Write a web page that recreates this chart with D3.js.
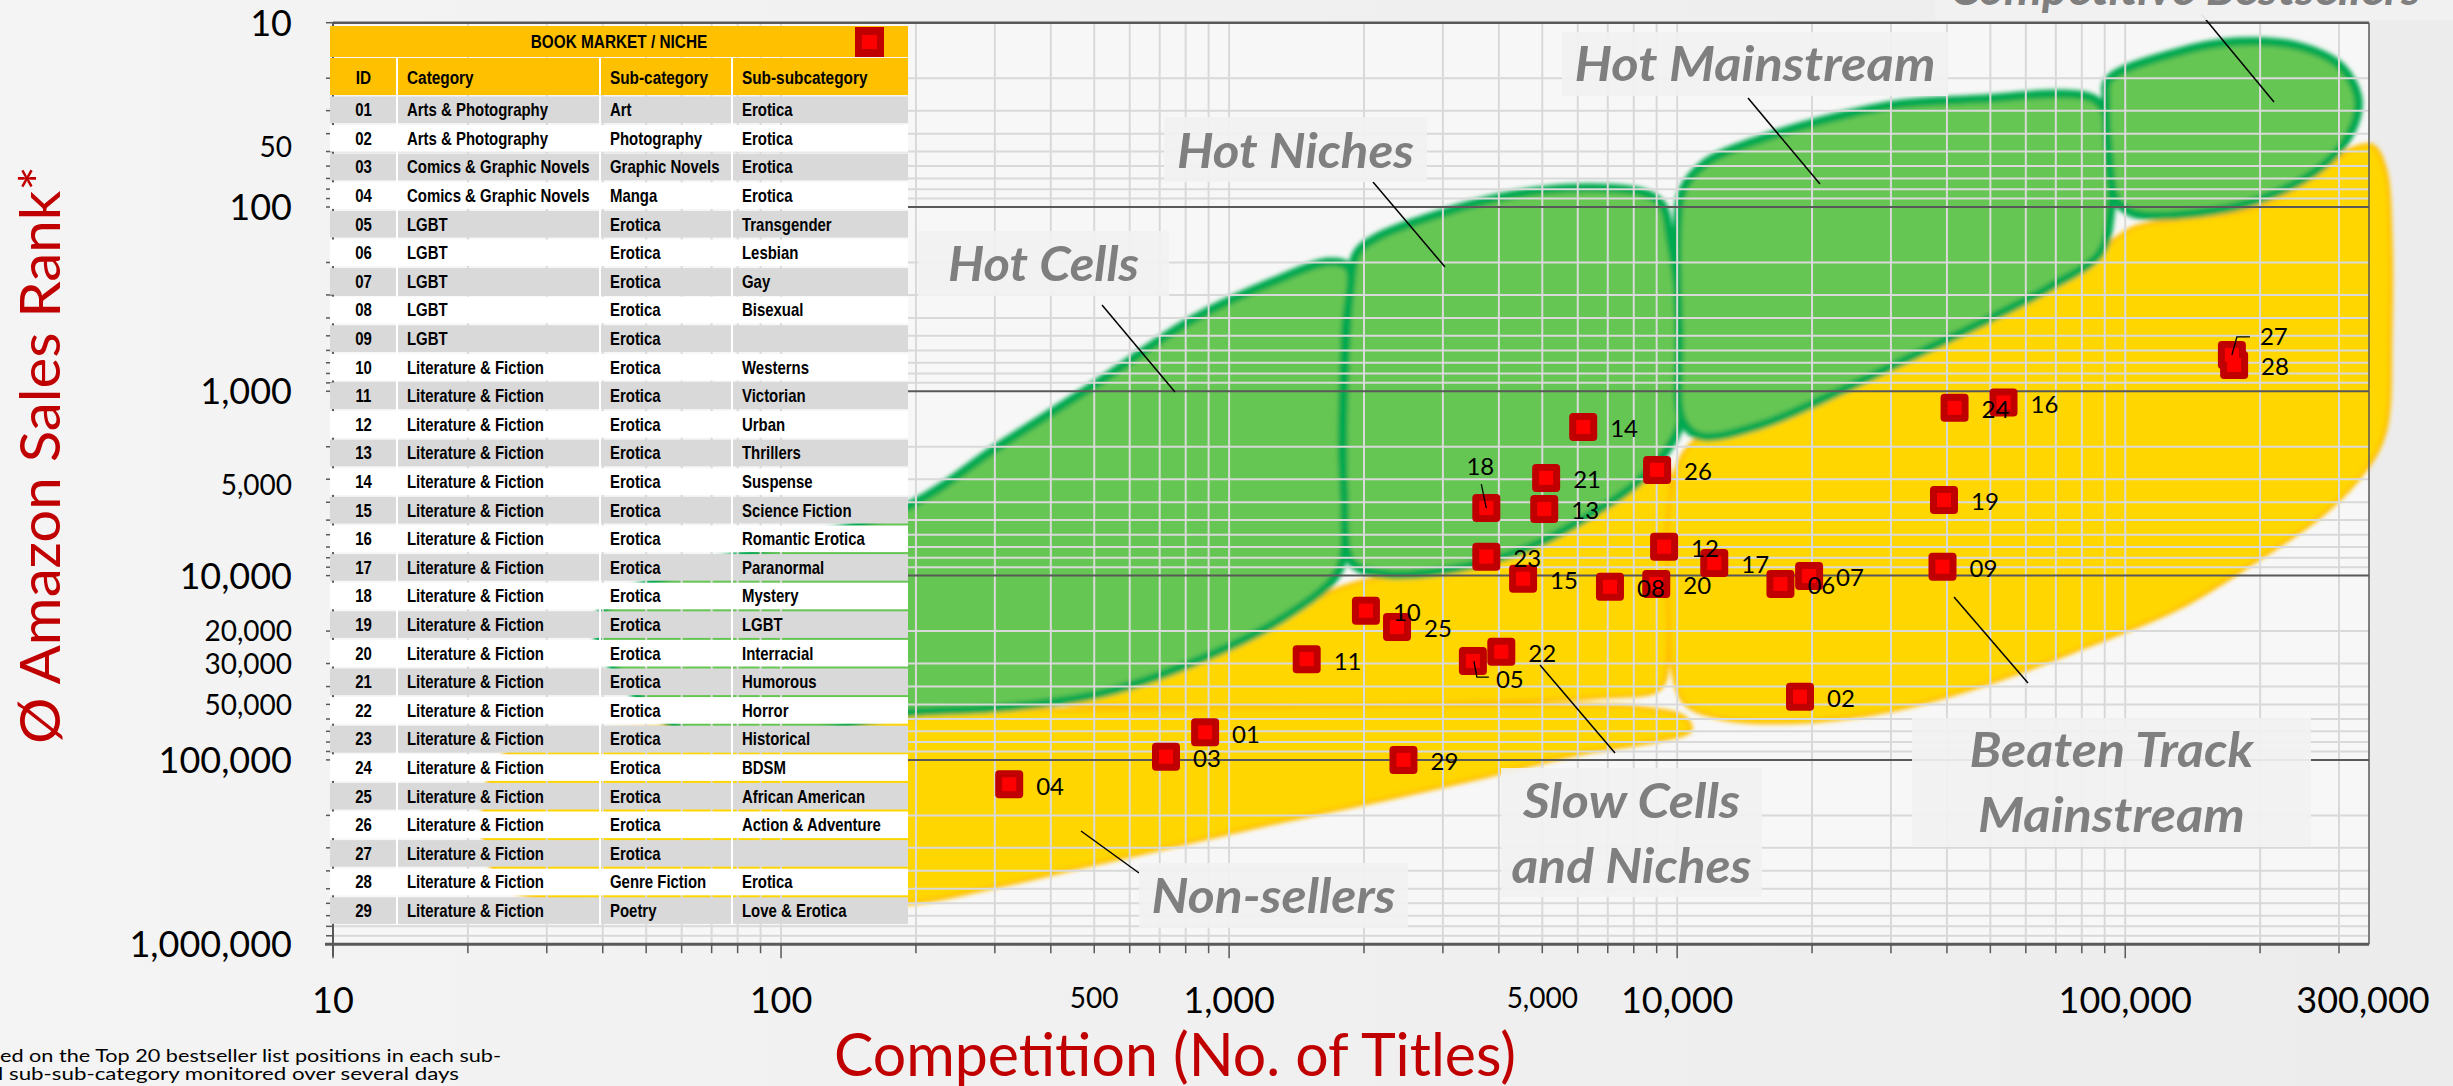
<!DOCTYPE html>
<html>
<head>
<meta charset="utf-8">
<script src="https://cdn.jsdelivr.net/npm/d3@7/dist/d3.min.js"></script>
<style>
    html, body { margin: 0; padding: 0; background: #f3f3f3; overflow: hidden; }
    svg { display: block; }
</style>
</head>
<body>
<div id="chartDiv"></div>
<script>
// niche table + scatter values
const ids = ['01','02','03','04','05','06','07','08','09','10','11','12','13','14','15',
    '16','17','18','19','20','21','22','23','24','25','26','27','28','29'];
const categories = ['Arts & Photography','Arts & Photography','Comics & Graphic Novels','Comics & Graphic Novels',
    'LGBT','LGBT','LGBT','LGBT','LGBT',
    'Literature & Fiction','Literature & Fiction','Literature & Fiction','Literature & Fiction','Literature & Fiction',
    'Literature & Fiction','Literature & Fiction','Literature & Fiction','Literature & Fiction','Literature & Fiction',
    'Literature & Fiction','Literature & Fiction','Literature & Fiction','Literature & Fiction','Literature & Fiction',
    'Literature & Fiction','Literature & Fiction','Literature & Fiction','Literature & Fiction','Literature & Fiction'];
const subCategories = ['Art','Photography','Graphic Novels','Manga','Erotica','Erotica','Erotica','Erotica','Erotica',
    'Erotica','Erotica','Erotica','Erotica','Erotica','Erotica','Erotica','Erotica','Erotica','Erotica',
    'Erotica','Erotica','Erotica','Erotica','Erotica','Erotica','Erotica','Erotica','Genre Fiction','Poetry'];
const subSubCategories = ['Erotica','Erotica','Erotica','Erotica','Transgender','Lesbian','Gay','Bisexual','',
    'Westerns','Victorian','Urban','Thrillers','Suspense','Science Fiction','Romantic Erotica','Paranormal','Mystery',
    'LGBT','Interracial','Humorous','Horror','Historical','BDSM','African American','Action & Adventure','',
    'Erotica','Love & Erotica'];

// competition = number of titles, salesRank = average amazon sales rank
const competition = [884, 18800, 723, 323, 3500, 17000, 19700, 7080, 39100, 2020, 1490, 9350, 5050, 6170, 4530,
    53500, 12100, 3750, 39400, 8980, 5100, 4050, 3750, 41600, 2370, 9020, 173000, 175000, 2450];
const salesRank = [70800, 45400, 96100, 135600, 29100, 11100, 10050, 11500, 8950, 15500, 28400, 6970, 4350, 1560, 10400,
    1150, 8550, 4300, 3890, 11100, 2950, 25900, 7890, 1230, 19000, 2670, 635, 720, 100000];

const xLabelValues = [10, 100, 500, 1000, 5000, 10000, 100000, 300000];
const xLabelTexts = ['10', '100', '500', '1,000', '5,000', '10,000', '100,000', '300,000'];
const yLabelValues = [10, 50, 100, 1000, 5000, 10000, 20000, 30000, 50000, 100000, 1000000];
const yLabelTexts = ['10', '50', '100', '1,000', '5,000', '10,000', '20,000', '30,000', '50,000', '100,000', '1,000,000'];

// market regions as [titles, sales rank] outlines
const hotCells = [[39, 17400], [192, 4200], [302, 2030], [500, 925], [826, 410], [1250, 255], [1680, 199],
    [1850, 214], [1816, 465], [1787, 2080], [1816, 6420], [1734, 9930], [1310, 17200], [826, 29800],
    [524, 43400], [308, 52200], [192, 55600], [66, 77900]];
const hotNiches = [[1930, 178], [2140, 146], [2990, 108], [4000, 89], [5070, 81], [6950, 79], [8440, 84],
    [9260, 97.5], [9650, 151], [10100, 320], [10300, 767], [10050, 1620], [8270, 3030], [6390, 4700],
    [4700, 7000], [3180, 9210], [2230, 9800], [1880, 8450], [1806, 3610], [1825, 534], [1864, 282]];
const hotMainstream = [[10300, 81], [11550, 58], [15300, 43], [22600, 32.5], [31500, 27.6], [48200, 25.9],
    [72800, 24.4], [85700, 26.2], [91700, 33.7], [93100, 63], [92600, 110], [87900, 178], [68000, 272],
    [49200, 410], [35800, 597], [23400, 984], [15300, 1530], [11250, 1750], [10260, 1430], [10100, 483],
    [10000, 151]];
const competitiveBestsellers = [[91700, 20.5], [129400, 14.6], [177800, 12.7], [245900, 13.5], [303600, 17.4],
    [331000, 26.2], [317800, 39.7], [274000, 60.7], [198000, 91.6], [144000, 108], [104200, 108],
    [95500, 91.6], [91700, 49.1], [90700, 26.2]];
const beatenTrack = [[10700, 1960], [18800, 1120], [40600, 465], [79400, 207], [104200, 130], [129400, 118],
    [198000, 100], [272500, 65], [318000, 49], [356000, 46.6], [380600, 63], [390500, 138], [390500, 483],
    [380600, 1620], [347000, 2580], [278000, 4580], [192000, 8560], [132800, 14800], [81000, 24400],
    [49500, 38300], [30200, 53600], [18400, 62200], [12500, 59200], [10400, 49100], [9750, 31300],
    [9550, 13600], [9650, 3890]];
const slowCells = [[415, 48500], [543, 40700], [826, 27700], [1310, 16400], [1770, 11700], [2170, 10300],
    [3180, 9560], [4260, 7840], [5740, 5530], [7700, 3520], [9400, 2510], [9550, 8240], [9550, 25300],
    [9160, 40700], [6740, 45600], [4030, 48500], [2180, 50400], [1110, 51600], [571, 50900]];
const nonSellers = [[23.6, 100000], [66, 64600], [192, 55000], [516, 52900], [1440, 50900], [4030, 50400],
    [8270, 52200], [10400, 59200], [10700, 68800], [9160, 77900], [6130, 91800], [3670, 123800],
    [2180, 164900], [1310, 214400], [782, 285600], [468, 380800], [278, 508000], [192, 600000],
    [66, 610000], [23.6, 449000]];

// layout only
const yLabelNudge = {50: -5, 5000: -35};
const xLabelNudge = {300000: 24};
const labelPlacement = {'18': 'above', '05': 'below', '27': 'aboveRight'};

const regionNotes = [
    {lines: ['Hot Cells'], box: [918, 231, 251, 65], base: [281], widths: [191], leader: [1102, 305, 1175, 392]},
    {lines: ['Hot Niches'], box: [1164, 117, 263, 65], base: [168], widths: [237], leader: [1373, 182, 1445, 267]},
    {lines: ['Hot Mainstream'], box: [1562, 32, 386, 64], base: [81], widths: [361], leader: [1748, 98, 1820, 184]},
    {lines: ['Competitive Bestsellers'], box: [1935, -50, 560, 70], base: [5], widths: [0], leader: [2202, 15, 2274, 102], start: 1950},
    {lines: ['Non-sellers'], box: [1139, 863, 269, 65], base: [913], widths: [244], leader: [1081, 831, 1139, 873]},
    {lines: ['Slow Cells', 'and Niches'], box: [1501, 768, 261, 129], base: [818, 883], widths: [217, 240], leader: [1540, 665, 1615, 753]},
    {lines: ['Beaten Track', 'Mainstream'], box: [1912, 718, 399, 129], base: [767, 832], widths: [284, 267], leader: [1954, 597, 2028, 683]}
];

const sansFont = "Lato, 'Open Sans', sans-serif";
const tableFont = "'Liberation Sans', Arial, sans-serif";
const narrowFactor = 0.83;

class NicheChart {
    constructor(width, height, div) {
        this.width = width;
        this.height = height;
        this.svg = d3.select(div).append('svg')
            .attr('width', width)
            .attr('height', height);
        this.x = d3.scaleLog().domain([10, 350000]).range([333, 2369]);
        this.y = d3.scaleLog().domain([10, 1000000]).range([22.7, 944.2]);
        this.setupDefs();
    }

    setupDefs() {
        let defs = this.svg.append('defs');
        let grad = defs.append('linearGradient').attr('id', 'bg');
        grad.append('stop').attr('offset', '0%').attr('stop-color', '#f4f4f4');
        grad.append('stop').attr('offset', '100%').attr('stop-color', '#ececec');
        defs.append('filter').attr('id', 'soft')
            .attr('x', '-10%').attr('y', '-10%').attr('width', '120%').attr('height', '120%')
            .append('feGaussianBlur').attr('stdDeviation', 2);
    }

    drawBackground() {
        this.svg.append('rect')
            .attr('width', this.width).attr('height', this.height)
            .attr('fill', 'url(#bg)');
        let [x0, x1] = this.x.range();
        let [y0, y1] = this.y.range();
        this.svg.append('rect')
            .attr('x', x0).attr('y', y0)
            .attr('width', x1 - x0).attr('height', y1 - y0)
            .attr('fill', '#f7f7f7');
    }

    drawRegions() {
        let x = this.x, y = this.y;
        let line = d3.line()
            .x(d => x(d[0]))
            .y(d => y(d[1]))
            .curve(d3.curveCatmullRomClosed.alpha(0.5));
        let g = this.svg.append('g').attr('filter', 'url(#soft)');
        [nonSellers, slowCells, beatenTrack].forEach(shape => {
            g.append('path')
                .attr('d', line(shape))
                .attr('fill', '#ffd600')
                .attr('stroke', '#ffc000')
                .attr('stroke-width', 4);
        });
        [hotCells, hotNiches, hotMainstream, competitiveBestsellers].forEach(shape => {
            g.append('path')
                .attr('d', line(shape))
                .attr('fill', '#66c652')
                .attr('stroke', '#00a94f')
                .attr('stroke-width', 9);
        });
    }

    drawGrid() {
        let x = this.x, y = this.y;
        let [x0, x1] = x.range();
        let [y0, y1] = y.range();
        let xs = [], ys = [];
        for (let e = 1; e <= 5; e++) {
            for (let k = 1; k <= 9; k++) {
                let v = k * Math.pow(10, e);
                if (v > 10 && v < 350000) xs.push(v);
                if (v > 10 && v < 1000000) ys.push(v);
            }
        }
        let g = this.svg.append('g');
        g.selectAll('.vgrid').data(xs).enter().append('line')
            .attr('x1', d => x(d)).attr('x2', d => x(d))
            .attr('y1', y0).attr('y2', y1)
            .attr('stroke', '#d9d9d9').attr('stroke-width', 2);
        g.selectAll('.hgrid').data(ys).enter().append('line')
            .attr('x1', x0).attr('x2', x1)
            .attr('y1', d => y(d)).attr('y2', d => y(d))
            .attr('stroke', d => Number.isInteger(Math.log10(d)) ? '#595959' : '#d9d9d9')
            .attr('stroke-width', 2);

        // frame
        g.append('line').attr('x1', x0).attr('x2', x1).attr('y1', y0).attr('y2', y0)
            .attr('stroke', '#595959').attr('stroke-width', 2.5);
        g.append('line').attr('x1', x1).attr('x2', x1).attr('y1', y0).attr('y2', y1)
            .attr('stroke', '#595959').attr('stroke-width', 1.5);
        g.append('line').attr('x1', x0).attr('x2', x0).attr('y1', y0).attr('y2', y1 + 12)
            .attr('stroke', '#595959').attr('stroke-width', 2);
        g.append('line').attr('x1', x0 - 8).attr('x2', x1).attr('y1', y1).attr('y2', y1)
            .attr('stroke', '#595959').attr('stroke-width', 3);

        // tick marks
        let xt = [10].concat(xs);
        g.selectAll('.xtick').data(xt).enter().append('line')
            .attr('x1', d => x(d)).attr('x2', d => x(d))
            .attr('y1', y1).attr('y2', d => y1 + (Number.isInteger(Math.log10(d)) ? 14 : 9))
            .attr('stroke', '#595959').attr('stroke-width', 1.5);
        let yt = [10].concat(ys, [1000000]);
        g.selectAll('.ytick').data(yt).enter().append('line')
            .attr('x1', x0 - 7).attr('x2', x0)
            .attr('y1', d => y(d)).attr('y2', d => y(d))
            .attr('stroke', '#595959').attr('stroke-width', 1.5);
    }

    drawRegionNotes() {
        let g = this.svg.append('g');
        regionNotes.forEach(n => {
            g.append('line')
                .attr('x1', n.leader[0]).attr('y1', n.leader[1])
                .attr('x2', n.leader[2]).attr('y2', n.leader[3])
                .attr('stroke', '#000').attr('stroke-width', 1.5);
            g.append('rect')
                .attr('x', n.box[0]).attr('y', n.box[1])
                .attr('width', n.box[2]).attr('height', n.box[3])
                .attr('fill', '#f1f1f1').attr('opacity', 0.93);
            n.lines.forEach((t, i) => {
                let cx = n.box[0] + n.box[2] / 2;
                let txt = g.append('text')
                    .attr('y', n.base[i])
                    .attr('font-family', sansFont)
                    .attr('font-weight', 'bold')
                    .attr('font-style', 'italic')
                    .attr('font-size', 48)
                    .attr('fill', '#7f7f7f')
                    .text(t);
                if (n.widths[i] > 0) {
                    txt.attr('x', cx).attr('text-anchor', 'middle')
                        .attr('textLength', n.widths[i]).attr('lengthAdjust', 'spacingAndGlyphs');
                } else {
                    txt.attr('x', n.start);
                }
            });
        });
    }

    drawPoints() {
        let x = this.x, y = this.y;
        let pts = ids.map((id, i) => ({id: id, cx: x(competition[i]), cy: y(salesRank[i])}));
        let g = this.svg.append('g');
        let lab = this.svg.append('g')
            .attr('font-family', sansFont)
            .attr('font-size', 24)
            .attr('fill', '#000');

        pts.forEach(p => {
            let place = labelPlacement[p.id];
            if (place === 'above') {
                lab.append('line').attr('x1', p.cx - 5).attr('y1', p.cy - 24).attr('x2', p.cx).attr('y2', p.cy)
                    .attr('stroke', '#000').attr('stroke-width', 1.3);
                lab.append('text').attr('x', p.cx - 6).attr('y', p.cy - 41).attr('dy', '0.35em')
                    .attr('text-anchor', 'middle').text(p.id);
            } else if (place === 'below') {
                lab.append('polyline')
                    .attr('points', [[p.cx + 1, p.cy], [p.cx + 4, p.cy + 16], [p.cx + 16, p.cy + 16]].join(' '))
                    .attr('fill', 'none').attr('stroke', '#000').attr('stroke-width', 1.3);
                lab.append('text').attr('x', p.cx + 23).attr('y', p.cy + 19).attr('dy', '0.35em').text(p.id);
            } else if (place === 'aboveRight') {
                lab.append('polyline')
                    .attr('points', [[p.cx, p.cy], [p.cx + 5, p.cy - 18], [p.cx + 18, p.cy - 18]].join(' '))
                    .attr('fill', 'none').attr('stroke', '#000').attr('stroke-width', 1.3);
                lab.append('text').attr('x', p.cx + 28).attr('y', p.cy - 18).attr('dy', '0.35em').text(p.id);
            } else {
                lab.append('text').attr('x', p.cx + 27).attr('y', p.cy + 2).attr('dy', '0.35em').text(p.id);
            }
        });

        g.selectAll('.outer').data(pts).enter().append('rect')
            .attr('x', d => d.cx - 14).attr('y', d => d.cy - 14)
            .attr('width', 28).attr('height', 28)
            .attr('rx', 4)
            .attr('fill', '#c00000');
        g.selectAll('.inner').data(pts).enter().append('rect')
            .attr('x', d => d.cx - 7).attr('y', d => d.cy - 7)
            .attr('width', 14).attr('height', 14)
            .attr('fill', '#ff0000');
        lab.raise();
    }

    // bold Arial-metric text squeezed to Arial Narrow proportions
    narrowText(g, x, y, size, anchor, str) {
        return g.append('text')
            .attr('transform', 'translate(' + x + ',' + y + ') scale(' + narrowFactor + ',1)')
            .attr('text-anchor', anchor)
            .attr('dy', '0.35em')
            .attr('font-size', size)
            .text(str);
    }

    drawTable() {
        let cols = [330, 397, 600, 732, 908];
        let rowTop = 95.5, rowH = 28.6;
        let g = this.svg.append('g')
            .attr('font-family', tableFont)
            .attr('font-weight', 'bold')
            .attr('fill', '#000');

        g.append('rect').attr('x', cols[0]).attr('y', 26).attr('width', cols[4] - cols[0]).attr('height', 31)
            .attr('fill', '#ffc000');
        g.append('rect').attr('x', cols[0]).attr('y', 58).attr('width', cols[4] - cols[0]).attr('height', 37)
            .attr('fill', '#ffc000');
        this.narrowText(g, (cols[0] + cols[4]) / 2, 42, 18.5, 'middle', 'BOOK MARKET / NICHE');
        g.append('rect').attr('x', 855).attr('y', 27).attr('width', 29).attr('height', 30).attr('fill', '#c00000');
        g.append('rect').attr('x', 862).attr('y', 35).attr('width', 15).attr('height', 14).attr('fill', '#ff0000');

        let heads = ['ID', 'Category', 'Sub-category', 'Sub-subcategory'];
        heads.forEach((h, i) => {
            if (i === 0) {
                this.narrowText(g, (cols[0] + cols[1]) / 2, 78, 18.5, 'middle', h);
            } else {
                this.narrowText(g, cols[i] + 10, 78, 18.5, 'start', h);
            }
        });

        ids.forEach((id, i) => {
            let top = rowTop + i * rowH;
            g.append('rect').attr('x', cols[0]).attr('y', top + 1)
                .attr('width', cols[4] - cols[0]).attr('height', rowH - 2)
                .attr('fill', i % 2 === 0 ? '#d9d9d9' : '#ffffff');
            let cells = [id, categories[i], subCategories[i], subSubCategories[i]];
            cells.forEach((c, j) => {
                if (!c) return;
                if (j === 0) {
                    this.narrowText(g, (cols[0] + cols[1]) / 2, top + rowH / 2, 18, 'middle', c);
                } else {
                    this.narrowText(g, cols[j] + 10, top + rowH / 2, 18, 'start', c);
                }
            });
        });

        // white column separators
        cols.slice(1, 4).forEach(c => {
            g.append('line').attr('x1', c).attr('x2', c).attr('y1', 58).attr('y2', rowTop + ids.length * rowH)
                .attr('stroke', '#fff').attr('stroke-width', 2);
        });
    }

    drawAxisText() {
        let x = this.x, y = this.y;
        let g = this.svg.append('g').attr('font-family', sansFont).attr('fill', '#000');
        yLabelValues.forEach((v, i) => {
            let major = Number.isInteger(Math.log10(v));
            g.append('text')
                .attr('x', 292)
                .attr('y', y(v) + (yLabelNudge[v] || 0))
                .attr('dy', '0.36em')
                .attr('text-anchor', 'end')
                .attr('font-size', major ? 36 : 28)
                .text(yLabelTexts[i]);
        });
        xLabelValues.forEach((v, i) => {
            let major = Number.isInteger(Math.log10(v)) || v === 300000;
            g.append('text')
                .attr('x', x(v) + (xLabelNudge[v] || 0))
                .attr('y', major ? 1013 : 1008)
                .attr('text-anchor', 'middle')
                .attr('font-size', major ? 36 : 28)
                .text(xLabelTexts[i]);
        });

        this.svg.append('text')
            .attr('x', 1175).attr('y', 1076)
            .attr('text-anchor', 'middle')
            .attr('font-family', sansFont)
            .attr('font-size', 60)
            .attr('fill', '#c00000')
            .attr('textLength', 682).attr('lengthAdjust', 'spacingAndGlyphs')
            .text('Competition (No. of Titles)');

        this.svg.append('text')
            .attr('transform', 'translate(60,455) rotate(-90)')
            .attr('text-anchor', 'middle')
            .attr('font-family', sansFont)
            .attr('font-size', 56)
            .attr('fill', '#c00000')
            .attr('textLength', 578).attr('lengthAdjust', 'spacingAndGlyphs')
            .text('Ø Amazon Sales Rank*');

        let foot = this.svg.append('g').attr('font-family', sansFont).attr('font-size', 17).attr('fill', '#000');
        foot.append('text').attr('x', 0).attr('y', 1062)
            .attr('textLength', 501).attr('lengthAdjust', 'spacingAndGlyphs')
            .text('ed on the  Top 20 bestseller list positions in each sub-');
        foot.append('text').attr('x', -2).attr('y', 1080)
            .attr('textLength', 461).attr('lengthAdjust', 'spacingAndGlyphs')
            .text('l sub-sub-category monitored over several days');
    }

    draw() {
        this.drawBackground();
        this.drawRegions();
        this.drawGrid();
        this.drawRegionNotes();
        this.drawPoints();
        this.drawTable();
        this.drawAxisText();
    }
}

const chart = new NicheChart(2453, 1086, '#chartDiv');
chart.draw();
</script>
</body>
</html>
